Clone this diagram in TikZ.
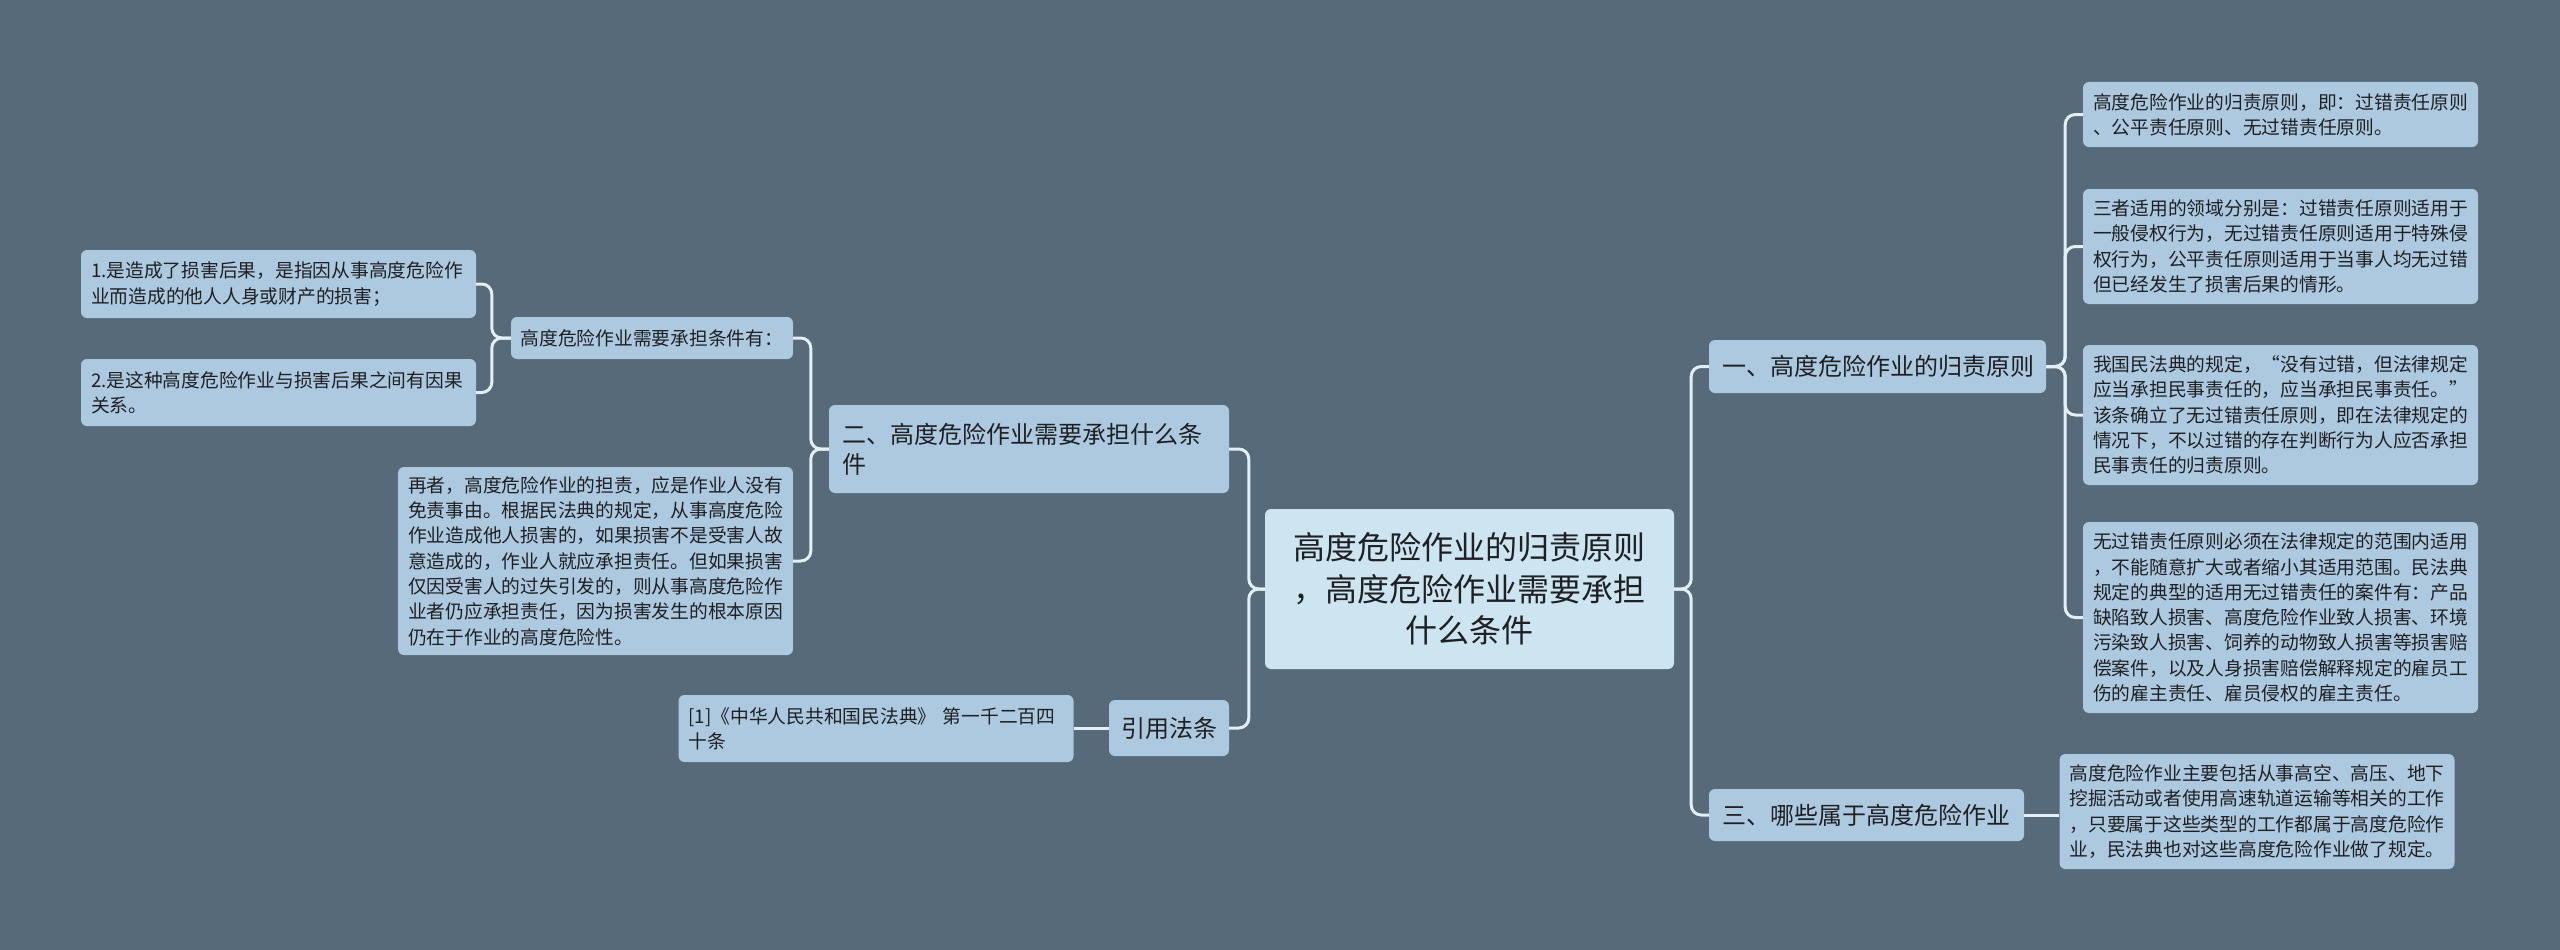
\documentclass[tikz,border=0pt]{standalone}
\usepackage{fontspec}
\setmainfont{Noto Sans CJK SC}
\definecolor{bgc}{RGB}{86,106,121}
\definecolor{leafc}{RGB}{173,201,223}
\definecolor{rootc}{RGB}{205,228,241}
\definecolor{linec}{RGB}{226,239,246}
\definecolor{txtc}{RGB}{30,32,36}
\tikzset{
  boxbase/.style={fill=leafc, rounded corners=6pt, text=txtc, inner ysep=0pt, align=left},
  leafbox/.style={boxbase, font=\fontsize{18.75}{25.3}\selectfont, inner xsep=10pt, text width=375pt},
  branchbox/.style={boxbase, font=\fontsize{24}{30}\selectfont, inner xsep=13pt},
  rootbox/.style={boxbase, fill=rootc, font=\fontsize{32}{41.7}\selectfont, inner xsep=14pt, text width=381pt, align=center, minimum height=160pt},
  conn/.style={draw=linec, line width=3pt, rounded corners=10pt}
}
\begin{document}
\begin{tikzpicture}[x=1pt,y=-1pt]
\fill[bgc] (0,0) rectangle (2560,950);
\useasboundingbox (0,0) rectangle (2560,950);

\node[rootbox] (c) at (1469.5,589) {高度危险作业的归责原则\\，高度危险作业需要承担\\什么条件};

\node[branchbox, text width=311pt, minimum height=53pt] (n1) at (1877.5,366.5) {一、高度危险作业的归责原则};
\node[branchbox, text width=289pt, minimum height=52pt] (n3) at (1866.5,815) {三、哪些属于高度危险作业};
\node[branchbox, text width=374pt, minimum height=88pt] (n2) at (1029,449) {二、高度危险作业需要承担什么条\\件};
\node[branchbox, inner xsep=12pt, text width=96pt, minimum height=56pt] (ct) at (1169,728) {引用法条};

\node[leafbox, minimum height=65pt] (r1) at (2280.5,114.5) {高度危险作业的归责原则，即：过错责任原则\\、公平责任原则、无过错责任原则。};
\node[leafbox, minimum height=115pt] (r2) at (2280.5,246.5) {三者适用的领域分别是：过错责任原则适用于\\一般侵权行为，无过错责任原则适用于特殊侵\\权行为，公平责任原则适用于当事人均无过错\\但已经发生了损害后果的情形。};
\node[leafbox, minimum height=140pt] (r3) at (2280.5,415) {我国民法典的规定，“没有过错，但法律规定\\应当承担民事责任的，应当承担民事责任。”\\该条确立了无过错责任原则，即在法律规定的\\情况下，不以过错的存在判断行为人应否承担\\民事责任的归责原则。};
\node[leafbox, minimum height=191pt] (r4) at (2280.5,617.5) {无过错责任原则必须在法律规定的范围内适用\\，不能随意扩大或者缩小其适用范围。民法典\\规定的典型的适用无过错责任的案件有：产品\\缺陷致人损害、高度危险作业致人损害、环境\\污染致人损害、饲养的动物致人损害等损害赔\\偿案件，以及人身损害赔偿解释规定的雇员工\\伤的雇主责任、雇员侵权的雇主责任。};
\node[leafbox, minimum height=115pt] (r5) at (2257,811.5) {高度危险作业主要包括从事高空、高压、地下\\挖掘活动或者使用高速轨道运输等相关的工作\\，只要属于这些类型的工作都属于高度危险作\\业，民法典也对这些高度危险作业做了规定。};

\node[leafbox, inner xsep=9.5pt, text width=263pt, minimum height=42pt] (mid) at (652,338) {高度危险作业需要承担条件有：};
\node[leafbox, minimum height=68pt] (l1) at (278.5,284) {1.是造成了损害后果，是指因从事高度危险作\\业而造成的他人人身或财产的损害；};
\node[leafbox, minimum height=67pt] (l2) at (278.5,392.5) {2.是这种高度危险作业与损害后果之间有因果\\关系。};
\node[leafbox, minimum height=188pt] (l3) at (595.5,561) {再者，高度危险作业的担责，应是作业人没有\\免责事由。根据民法典的规定，从事高度危险\\作业造成他人损害的，如果损害不是受害人故\\意造成的，作业人就应承担责任。但如果损害\\仅因受害人的过失引发的，则从事高度危险作\\业者仍应承担责任，因为损害发生的根本原因\\仍在于作业的高度危险性。};
\node[leafbox, minimum height=67pt] (cl) at (876,728.5) {[1]《中华人民共和国民法典》~第一千二百四\\十条};

% connectors right
\draw[conn] (c.east) -- ++(17,0) |- (n1.west);
\draw[conn] (c.east) -- ++(17,0) |- (n3.west);
\draw[conn] (n1.east) -- ++(19,0) |- (r1.west);
\draw[conn] (n1.east) -- ++(19,0) |- (r2.west);
\draw[conn] (n1.east) -- ++(19,0) |- (r3.west);
\draw[conn] (n1.east) -- ++(19,0) |- (r4.west);
\draw[conn] (n3.east) -- (r5.west |- n3.east);
% connectors left
\draw[conn] (c.west) -- ++(-16,0) |- (n2.east);
\draw[conn] (c.west) -- ++(-16,0) |- (ct.east);
\draw[conn] (ct.west) -- (cl.east |- ct.west);
\draw[conn] (n2.west) -- ++(-18,0) |- (mid.east);
\draw[conn] (n2.west) -- ++(-18,0) |- (l3.east);
\draw[conn] (mid.west) -- ++(-19,0) |- (l1.east);
\draw[conn] (mid.west) -- ++(-19,0) |- (l2.east);
\end{tikzpicture}
\end{document}
